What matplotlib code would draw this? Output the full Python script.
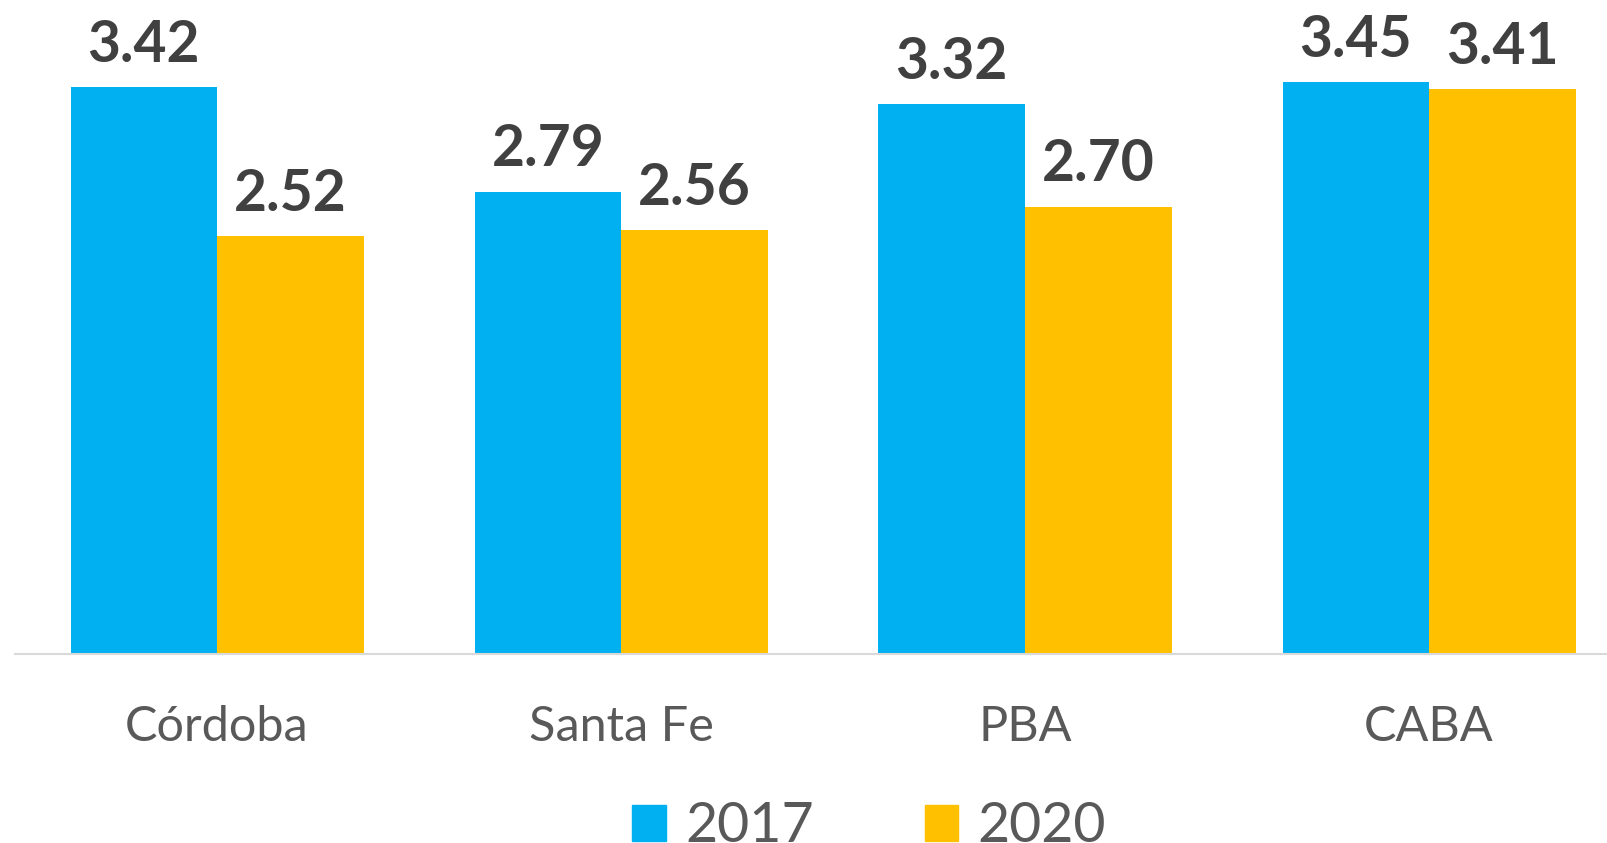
import matplotlib
matplotlib.use("Agg")
import matplotlib.pyplot as plt
from matplotlib.patches import Rectangle
import numpy as np

categories = ["Córdoba", "Santa Fe", "PBA", "CABA"]
series_names = ["2017", "2020"]
values_2017 = [3.42, 2.79, 3.32, 3.45]
values_2020 = [2.52, 2.56, 2.70, 3.41]
value_labels_2017 = ["3.42", "2.79", "3.32", "3.45"]
value_labels_2020 = ["2.52", "2.56", "2.70", "3.41"]

BLUE = "#00B0F0"
YELLOW = "#FFC000"
LABEL_DARK = "#404040"
TEXT_GRAY = "#595959"

plt.rcParams['font.family'] = ['Lato', 'DejaVu Sans']

W, H = 1607, 843
fig = plt.figure(figsize=(W / 100, H / 100), dpi=100)

base_px = 654.0
left_px = 15.0
unit_px = 404.0
ax = fig.add_axes([left_px / W, (H - base_px) / H, 1 - left_px / W, base_px / H])

x = np.arange(len(categories))
bw = 146.5 / unit_px
b1 = ax.bar(x - bw / 2, values_2017, width=bw, color=BLUE, label=series_names[0])
b2 = ax.bar(x + bw / 2, values_2020, width=bw, color=YELLOW, label=series_names[1])

ax.bar_label(b1, labels=value_labels_2017, padding=11, fontsize=41,
             fontweight='bold', color=LABEL_DARK)
ax.bar_label(b2, labels=value_labels_2020, padding=11, fontsize=41,
             fontweight='bold', color=LABEL_DARK)

ax.set_xlim(-0.5, (W - (left_px + unit_px / 2)) / unit_px)
ax.set_ylim(0, base_px / 165.7)

ax.set_xticks(x)
ax.set_xticklabels(categories, fontsize=35, color=TEXT_GRAY)
ax.tick_params(axis='x', length=0, pad=37)
ax.set_yticks([])
for s in ["top", "right", "left"]:
    ax.spines[s].set_visible(False)
ax.spines["bottom"].set_color("#D9D9D9")
ax.spines["bottom"].set_linewidth(1.5)
ax.set_facecolor("none")

handles = [Rectangle((0, 0), 1, 1, color=BLUE), Rectangle((0, 0), 1, 1, color=YELLOW)]
fig.legend(handles, series_names, loc='center', bbox_to_anchor=(0.541, 0.019),
           ncol=2, frameon=False, fontsize=40, labelcolor=TEXT_GRAY,
           handlelength=0.6, handleheight=0.6, handletextpad=0.36,
           columnspacing=1.98, borderpad=0, borderaxespad=0)

fig.savefig("out.png", dpi=100)
